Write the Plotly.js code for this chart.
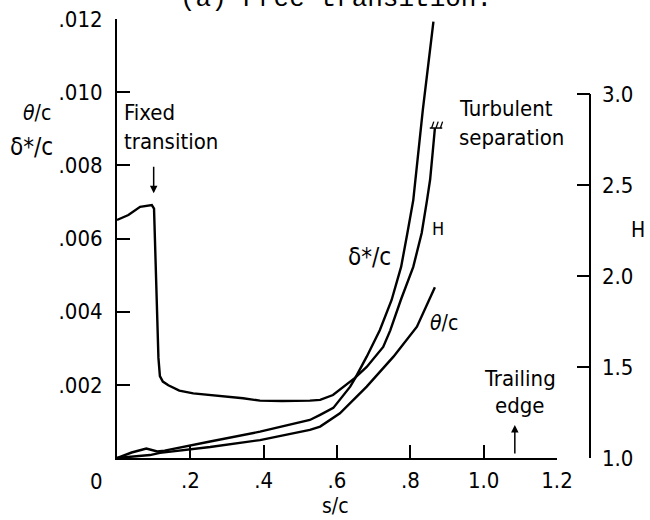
<!DOCTYPE html>
<html>
<head>
<meta charset="utf-8">
<script src="https://cdn.plot.ly/plotly-3.0.1.min.js"></script>
<style>body{margin:0;padding:0;background:#fff}</style>
</head>
<body>
<div id="chart" style="width:650px;height:520px"></div>
<script>
// ---- data ----
const sDelta = [0, 0.04, 0.08, 0.11, 0.13, 0.163, 0.2, 0.254, 0.39, 0.5, 0.526, 0.554, 0.59, 0.636, 0.65, 0.681, 0.717, 0.749, 0.775, 0.792, 0.808, 0.834, 0.863];
const deltaStar = [0, 0.00015, 0.00026, 0.00018, 0.0002, 0.00027, 0.00033, 0.00045, 0.00072, 0.00099, 0.00104, 0.00118, 0.00137, 0.00195, 0.00219, 0.00277, 0.0035, 0.00432, 0.00523, 0.00615, 0.00705, 0.00951, 0.01193];

const sTheta = [0, 0.05, 0.09, 0.117, 0.254, 0.39, 0.5, 0.526, 0.554, 0.608, 0.681, 0.754, 0.818, 0.867];
const theta = [0, 0.00005, 0.00008, 0.00014, 0.0003, 0.00049, 0.0007, 0.00077, 0.00086, 0.00122, 0.00195, 0.00277, 0.00359, 0.00467];

const sH = [0, 0.031, 0.063, 0.095, 0.101, 0.105, 0.109, 0.113, 0.117, 0.125, 0.14, 0.17, 0.208, 0.254, 0.30, 0.344, 0.39, 0.45, 0.526, 0.554, 0.589, 0.635, 0.649, 0.681, 0.726, 0.745, 0.774, 0.808, 0.831, 0.845, 0.854, 0.861, 0.867];
const H = [2.308, 2.335, 2.38, 2.39, 2.37, 2.1, 1.75, 1.55, 1.45, 1.42, 1.40, 1.37, 1.355, 1.346, 1.335, 1.328, 1.315, 1.313, 1.315, 1.319, 1.346, 1.419, 1.44, 1.50, 1.61, 1.70, 1.868, 2.05, 2.236, 2.41, 2.53, 2.68, 2.813];

const xTickVals = [0.2, 0.4, 0.6, 0.8, 1.0, 1.2];
const xTickText = [".2", ".4", ".6", ".8", "1.0", "1.2"];
const yTickVals = [0.002, 0.004, 0.006, 0.008, 0.010, 0.012];
const yTickText = [".002", ".004", ".006", ".008", ".010", ".012"];
const y2TickVals = [1.0, 1.5, 2.0, 2.5, 3.0];
const y2TickText = ["1.0", "1.5", "2.0", "2.5", "3.0"];

const fixedTransitionS = 0.1;
const trailingEdgeS = 1.085;

// ---- layout helpers ----
const L = 117, T = 19, W = 483, Hh = 439;
const px = x => (x - L) / W;
const py = y => (T + Hh - y) / Hh;
const FONT = "DejaVu Sans Condensed, Liberation Sans Narrow, Liberation Sans, sans-serif";
const line = {color: "black", width: 2.4};

const traces = [
  {x: sH, y: H, yaxis: "y2", mode: "lines", line: line, hoverinfo: "skip"},
  {x: sDelta, y: deltaStar, mode: "lines", line: line, hoverinfo: "skip"},
  {x: sTheta, y: theta, mode: "lines", line: line, hoverinfo: "skip"}
];

function txt(text, x, y, size, extra) {
  return Object.assign({text: text, xref: "paper", yref: "paper", x: px(x), y: py(y),
    showarrow: false, font: {family: FONT, size: size, color: "black"},
    xanchor: "center", yanchor: "middle"}, extra || {});
}

const sepS = sH[sH.length - 1], sepH = H[H.length - 1];
const shapes = [
  {type: "line", xref: "paper", yref: "y2", x0: px(590), x1: px(590), y0: 1, y1: 3, line: {color: "black", width: 2}},
  {type: "line", xref: "x", yref: "y2", x0: sepS - 0.014, x1: sepS + 0.02, y0: sepH, y1: sepH, line: {color: "black", width: 1.5}}
];
[-0.009, 0.003, 0.015].forEach(d => {
  shapes.push({type: "line", xref: "x", yref: "y2", x0: sepS + d, x1: sepS + d + 0.006, y0: sepH, y1: sepH + 0.035, line: {color: "black", width: 1.3}});
});

const annotations = [
  {text: "(a) Free transition.", xref: "paper", yref: "paper", x: px(336), y: py(16), xanchor: "center", yanchor: "bottom",
   showarrow: false, font: {family: "Liberation Mono, Courier New, monospace", size: 26, color: "black"}},
  txt("<i>θ</i>/c", 37, 113, 21),
  txt("δ*/c", 31, 147, 24),
  txt("Fixed", 122, 112, 22, {xanchor: "left"}),
  txt("transition", 122, 141, 22, {xanchor: "left"}),
  txt("Turbulent", 457, 108, 22, {xanchor: "left"}),
  txt("separation", 457, 137, 22, {xanchor: "left"}),
  txt("H", 438, 228, 18),
  txt("δ*/c", 369, 257, 24),
  txt("<i>θ</i>/c", 444, 323, 21),
  txt("Trailing", 520, 378, 22),
  txt("edge", 520, 405, 22),
  txt("H", 638, 230, 21),
  txt("s/c", 335, 506, 21),
  txt("0", 96, 481, 22),
  {text: "", xref: "x", yref: "y", x: fixedTransitionS, y: 0.00724, ax: 0, ay: -28, showarrow: true,
   arrowhead: 2, arrowsize: 1, arrowwidth: 1.5, arrowcolor: "black"},
  {text: "", xref: "x", yref: "y", x: trailingEdgeS, y: 0.0009, ax: 0, ay: 30, showarrow: true,
   arrowhead: 2, arrowsize: 1, arrowwidth: 1.5, arrowcolor: "black"}
];

const axisFont = {family: FONT, size: 22, color: "black"};
const layout = {
  width: 650, height: 520,
  margin: {l: L, r: 650 - L - W, t: T, b: 520 - T - Hh, pad: 0},
  paper_bgcolor: "white", plot_bgcolor: "white",
  showlegend: false,
  xaxis: {domain: [0, 440 / W], range: [0, 1.2], showline: true, linecolor: "black", linewidth: 2,
          ticks: "inside", ticklen: 13, tickwidth: 2, tickcolor: "black",
          tickvals: xTickVals, ticktext: xTickText, tickfont: axisFont,
          showgrid: false, zeroline: false, ticklabelstandoff: 2},
  yaxis: {range: [0, 0.012], showline: true, linecolor: "black", linewidth: 2,
          ticks: "inside", ticklen: 13, tickwidth: 2, tickcolor: "black",
          tickvals: yTickVals, ticktext: yTickText, tickfont: axisFont,
          showgrid: false, zeroline: false, ticklabelstandoff: 8},
  yaxis2: {overlaying: "y", side: "right", anchor: "free", position: px(590),
           range: [1, 1 + Hh / 182], showline: false,
           ticks: "inside", ticklen: 13, tickwidth: 2, tickcolor: "black",
           tickvals: y2TickVals, ticktext: y2TickText, tickfont: axisFont,
           showgrid: false, zeroline: false, ticklabelstandoff: 11},
  shapes: shapes,
  annotations: annotations
};

Plotly.newPlot("chart", traces, layout, {staticPlot: true, displayModeBar: false});
</script>
</body>
</html>
